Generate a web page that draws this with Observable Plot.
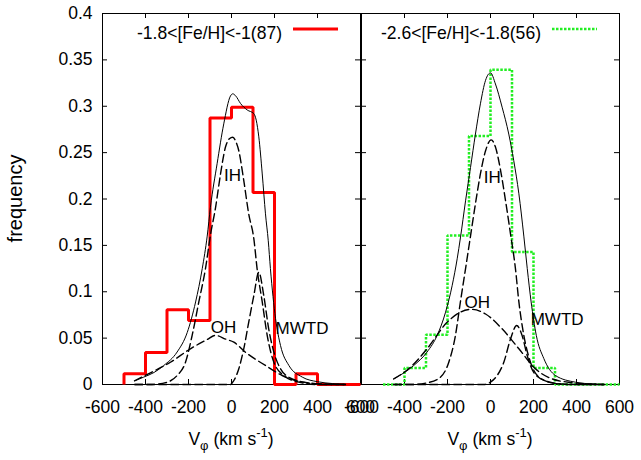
<!DOCTYPE html>
<html><head><meta charset="utf-8">
<script src="https://cdn.jsdelivr.net/npm/d3@7"></script>
<script src="https://cdn.jsdelivr.net/npm/@observablehq/plot@0.6"></script>
<style>
body{margin:0;background:#fff;}
#chart{position:relative;width:641px;height:460px;background:#fff;}
#chart svg{position:absolute;top:0;}
</style></head><body><div id="chart"></div>
<script>
// ---- data ----
const xTicks = [-600, -400, -200, 0, 200, 400, 600];
const yTicks = [0, 0.05, 0.1, 0.15, 0.2, 0.25, 0.3, 0.35, 0.4];
const binEdges = [-500, -400, -300, -200, -100, 0, 100, 200, 300, 400, 500, 600];

const richLabel = "-1.8<[Fe/H]<-1(87)";
const richFreq = [0.0115, 0.0345, 0.0805, 0.069, 0.2874, 0.2989, 0.2069, 0, 0.0115, 0, 0];
const poorLabel = "-2.6<[Fe/H]<-1.8(56)";
const poorFreq = [0, 0.0179, 0.0536, 0.1607, 0.2679, 0.3393, 0.1429, 0.0179, 0, 0, 0];

// model curves [V_phi, frequency]
const richTotal = [[-450,0.004],[-408,0.008],[-360,0.013],[-315,0.0205],[-253,0.035],[-206,0.056],[-167,0.089],[-136,0.125],[-113,0.16],[-98,0.191],[-67,0.238],[-36,0.281],[-5,0.311],[6,0.3134],[20,0.311],[42,0.303],[73,0.296],[104,0.292],[115,0.285],[127,0.267],[143,0.227],[158,0.184],[171,0.155],[181,0.125],[205,0.071],[228,0.042],[267,0.0205],[329,0.008],[400,0.003],[470,0.001],[530,0]];
const richIH = [[-450,0],[-370,0],[-299,0.0025],[-253,0.0097],[-214,0.024],[-183,0.053],[-152,0.089],[-121,0.125],[-98,0.161],[-74,0.191],[-51,0.227],[-28,0.256],[-10,0.265],[6,0.2666],[20,0.262],[34,0.252],[57,0.22],[80,0.184],[104,0.157],[119,0.125],[143,0.089],[166,0.053],[197,0.024],[243,0.0097],[313,0.0025],[400,0],[530,0]];
const richOH = [[-451,0.004],[-377,0.0126],[-284,0.024],[-191,0.0385],[-113,0.0485],[-75,0.053],[-28,0.049],[11,0.0456],[65,0.0348],[158,0.0205],[236,0.0097],[329,0.0025],[420,0.0005],[530,0]];
const richMWTD = [[-450,0],[-5,0],[11,0.0043],[34,0.017],[57,0.0385],[80,0.067],[104,0.096],[127,0.121],[150,0.096],[173,0.06],[197,0.035],[228,0.017],[282,0.006],[360,0.0018],[450,0],[530,0]];

const poorTotal = [[-450,0.006],[-357,0.0205],[-295,0.035],[-248,0.053],[-209,0.078],[-178,0.107],[-155,0.1355],[-140,0.158],[-116,0.198],[-93,0.234],[-70,0.27],[-47,0.3026],[-23,0.328],[0,0.336],[23,0.324],[54,0.299],[85,0.27],[108,0.2415],[132,0.2056],[155,0.16],[171,0.125],[189,0.089],[213,0.053],[248,0.028],[302,0.0097],[395,0.0025],[480,0.0005],[530,0]];
const poorIH = [[-450,0],[-370,0],[-295,0.0018],[-233,0.0079],[-194,0.024],[-163,0.053],[-140,0.089],[-116,0.125],[-93,0.16],[-70,0.195],[-47,0.227],[-23,0.252],[3,0.2638],[23,0.256],[47,0.2307],[70,0.198],[93,0.1625],[116,0.125],[132,0.089],[155,0.053],[186,0.024],[225,0.0079],[287,0.0018],[370,0],[530,0]];
const poorOH = [[-450,0.006],[-372,0.0187],[-295,0.0385],[-202,0.067],[-140,0.078],[-88,0.081],[-23,0.076],[54,0.06],[132,0.0385],[209,0.017],[287,0.006],[380,0.002],[460,0.0005],[530,0]];
const poorMWTD = [[-450,0],[-30,0],[0,0.0025],[31,0.0097],[62,0.024],[93,0.049],[122,0.0636],[147,0.0528],[171,0.031],[201,0.013],[256,0.004],[330,0.0005],[420,0],[530,0]];

const compNames = ["IH", "OH", "MWTD"];
const richLabelPos = [[5,0.225],[-37,0.0615],[328,0.06]];
const poorLabelPos = [[8,0.2235],[-62,0.0888],[310,0.0697]];

// ---- drawing ----
const fontR = "'Liberation Sans', Arial, sans-serif";
const TOP = 13, BOTTOM = 76, HEIGHT = 460;

function steps(freq) {
  const pts = [{v: binEdges[0], f: 0}];
  freq.forEach((f, i) => pts.push({v: binEdges[i], f}));
  pts.push({v: binEdges[binEdges.length - 1], f: freq[freq.length - 1]});
  return pts;
}

function panel(o) {
  const W = o.width - o.ml - o.mr, H = HEIGHT - TOP - BOTTOM;
  const dashed = {x: d => d[0], y: d => d[1], curve: "monotone-x", stroke: "black", strokeWidth: 1.4, strokeDasharray: "8,4"};
  const svg = Plot.plot({
    width: o.width, height: HEIGHT,
    marginLeft: o.ml, marginRight: o.mr, marginTop: TOP, marginBottom: BOTTOM,
    style: {fontFamily: fontR, fontSize: "17.5px", overflow: "visible", background: "none", color: "black"},
    x: {domain: [-600, 600], ticks: xTicks, tickSize: 0, tickPadding: 16, tickFormat: d => String(d), label: null},
    y: o.showY
      ? {domain: [0, 0.4], ticks: yTicks, tickSize: 0, tickPadding: 10, tickFormat: d => String(d), label: null}
      : {domain: [0, 0.4], axis: null},
    marks: [
      Plot.frame({stroke: "black", strokeWidth: 1}),
      Plot.ruleY(yTicks, {y: d => d, insetRight: W - 5, stroke: "black"}),
      Plot.ruleY(yTicks, {y: d => d, insetLeft: W - 5, stroke: "black"}),
      Plot.ruleX(xTicks, {x: d => d, insetBottom: H - 5, stroke: "black"}),
      Plot.ruleX(xTicks, {x: d => d, insetTop: H - 5, stroke: "black"}),
      Plot.line(steps(o.freq), {x: "v", y: "f", curve: "step-after", stroke: o.color, strokeWidth: o.sw, strokeDasharray: o.dash, strokeLinejoin: "miter", strokeLinecap: "butt"}),
      Plot.line(o.total, {x: d => d[0], y: d => d[1], curve: "monotone-x", stroke: "black", strokeWidth: 1}),
      Plot.line(o.ih, dashed),
      Plot.line(o.oh, dashed),
      Plot.line(o.mwtd, dashed),
      Plot.text(o.labelPos, {x: d => d[0], y: d => d[1], text: (d, i) => compNames[i], fontSize: 17, fill: "black"})
    ]
  });
  svg.style.left = o.left + "px";
  const s = d3.select(svg);
  const [x0, x1] = svg.scale("x").range;
  const xc = (x0 + x1) / 2;
  // legend
  s.append("text").attr("x", x1 - 78).attr("y", 39).attr("text-anchor", "end")
    .attr("font-family", fontR).attr("font-size", 19).attr("fill", "black")
    .attr("textLength", o.legendLen).attr("lengthAdjust", "spacingAndGlyphs").text(o.label);
  s.append("line").attr("x1", x1 - 67).attr("x2", x1 - 22).attr("y1", 29).attr("y2", 29)
    .attr("stroke", o.color).attr("stroke-width", o.sw).attr("stroke-dasharray", o.dash || null);
  // x label
  const t = s.append("text").attr("x", xc).attr("y", 445).attr("text-anchor", "middle")
    .attr("font-family", fontR).attr("font-size", 17.5).attr("fill", "black");
  t.append("tspan").text("V");
  t.append("tspan").attr("font-size", 13).attr("dy", 5).text("φ");
  t.append("tspan").attr("dy", -5).text(" (km s");
  t.append("tspan").attr("font-size", 13).attr("dy", -8).text("-1");
  t.append("tspan").attr("dy", 8).text(")");
  if (o.showY) {
    s.append("text").attr("transform", `translate(22,${(TOP + HEIGHT - BOTTOM) / 2}) rotate(-90)`)
      .attr("text-anchor", "middle").attr("font-family", fontR).attr("font-size", 20).attr("fill", "black").text("frequency");
  }
  return svg;
}

const chart = document.getElementById("chart");
chart.append(panel({
  left: 0, width: 361, ml: 102, mr: 1, showY: true,
  freq: richFreq, color: "#ff0000", sw: 3, dash: null, label: richLabel, legendLen: 145,
  total: richTotal, ih: richIH, oh: richOH, mwtd: richMWTD, labelPos: richLabelPos
}));
chart.append(panel({
  left: 360, width: 281, ml: 1, mr: 22, showY: false,
  freq: poorFreq, color: "#22ee22", sw: 2.5, dash: "2.5,1.5", label: poorLabel, legendLen: 160,
  total: poorTotal, ih: poorIH, oh: poorOH, mwtd: poorMWTD, labelPos: poorLabelPos
}));
</script></body></html>
